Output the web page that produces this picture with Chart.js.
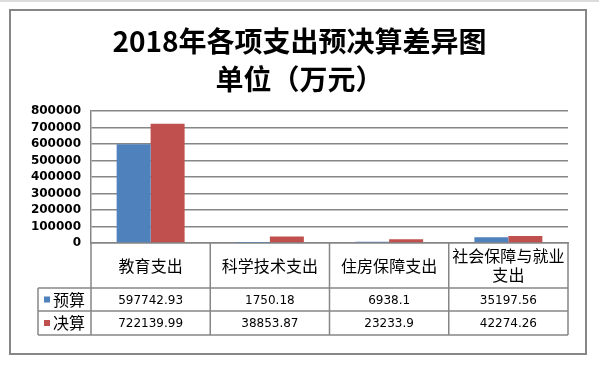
<!DOCTYPE html>
<html>
<head>
<meta charset="utf-8">
<script src="https://cdn.jsdelivr.net/npm/chart.js@4/dist/chart.umd.min.js"></script>
<style>
  html, body { margin: 0; padding: 0; background: #fff; }
  #wrap { width: 599px; height: 367px; }
</style>
</head>
<body>
<div id="wrap"><canvas id="chart" width="599" height="367"></canvas></div>
<script>
// Chart data
const categories = ['教育支出', '科学技术支出', '住房保障支出', '社会保障与就业支出'];
const budgetValues = [597742.93, 1750.18, 6938.1, 35197.56];
const finalValues = [722139.99, 38853.87, 23233.9, 42274.26];
const seriesNames = ['预算', '决算'];
const titleLines = ['2018年各项支出预决算差异图', '单位（万元）'];
const yMax = 800000;
const yStep = 100000;

const lineColor = '#868686';
const colors = ['#4F81BD', '#C0504D'];

// Wrap a label into lines that fit a column
function wrapText(ctx, text, maxWidth) {
  const lines = [];
  let line = '';
  for (const ch of text) {
    if (line && ctx.measureText(line + ch).width > maxWidth) {
      lines.push(line);
      line = ch;
    } else {
      line += ch;
    }
  }
  if (line) lines.push(line);
  return lines;
}

// Outer frame plus the data table under the plot
const dataTablePlugin = {
  id: 'dataTable',
  beforeDraw(chart) {
    const ctx = chart.ctx;
    ctx.save();
    ctx.fillStyle = '#dcdcdc';
    ctx.fillRect(0, 0, chart.width, 2);
    ctx.strokeStyle = '#878787';
    ctx.lineWidth = 2;
    ctx.strokeRect(10, 10, 576, 344);
    ctx.restore();
  },
  afterDraw(chart) {
    const ctx = chart.ctx;
    const area = chart.chartArea;
    const colW = (area.right - area.left) / categories.length;
    const top = area.bottom;
    const headerBottom = top + 45;
    const row1Bottom = headerBottom + 23;
    const row2Bottom = row1Bottom + 24;
    const legendLeft = 38;

    ctx.save();
    ctx.strokeStyle = lineColor;
    ctx.lineWidth = 1.5;
    ctx.beginPath();
    // horizontal lines
    [headerBottom, row1Bottom, row2Bottom].forEach(y => {
      ctx.moveTo(legendLeft, y);
      ctx.lineTo(area.right, y);
    });
    // vertical lines
    ctx.moveTo(legendLeft, headerBottom);
    ctx.lineTo(legendLeft, row2Bottom);
    for (let i = 0; i <= categories.length; i++) {
      const x = area.left + i * colW;
      ctx.moveTo(x, top);
      ctx.lineTo(x, row2Bottom);
    }
    ctx.stroke();

    ctx.fillStyle = '#000';
    ctx.textAlign = 'center';
    ctx.textBaseline = 'middle';

    // header row: category names
    ctx.font = '16px "Noto Sans CJK SC"';
    categories.forEach((name, i) => {
      const cx = area.left + (i + 0.5) * colW;
      const lines = wrapText(ctx, name, colW - 4);
      const lh = 19;
      const startY = (top + headerBottom) / 2 - (lines.length - 1) * lh / 2;
      lines.forEach((l, j) => ctx.fillText(l, cx, startY + j * lh));
    });

    // value rows
    const rows = [
      { values: budgetValues, y: (headerBottom + row1Bottom) / 2 },
      { values: finalValues, y: (row1Bottom + row2Bottom) / 2 }
    ];
    rows.forEach((row, r) => {
      // legend cell
      ctx.fillStyle = colors[r];
      ctx.fillRect(legendLeft + 6, row.y - 3, 6, 6);
      ctx.fillStyle = '#000';
      ctx.textAlign = 'left';
      ctx.font = '16px "Noto Sans CJK SC"';
      ctx.fillText(seriesNames[r], legendLeft + 15, row.y);
      // values
      ctx.textAlign = 'center';
      ctx.font = '12px "DejaVu Sans"';
      row.values.forEach((v, i) => {
        ctx.fillText(String(v), area.left + (i + 0.5) * colW, row.y + 1);
      });
    });
    ctx.restore();
  }
};

const ctx = document.getElementById('chart').getContext('2d');
const chart = new Chart(ctx, {
  type: 'bar',
  data: {
    labels: categories,
    datasets: [
      {
        label: seriesNames[0],
        data: budgetValues,
        backgroundColor: colors[0],
        categoryPercentage: 0.57,
        barPercentage: 1
      },
      {
        label: seriesNames[1],
        data: finalValues,
        backgroundColor: colors[1],
        categoryPercentage: 0.57,
        barPercentage: 1
      }
    ]
  },
  options: {
    responsive: false,
    animation: false,
    layout: { padding: { left: 31, right: 31, top: 0, bottom: 0 } },
    plugins: {
      legend: { display: false },
      tooltip: { enabled: false },
      title: {
        display: true,
        text: titleLines,
        color: '#000',
        font: { family: '"Noto Sans CJK SC"', size: 28, weight: 'bold', lineHeight: 1.357 },
        padding: { top: 22, bottom: 13 }
      }
    },
    scales: {
      x: {
        ticks: { display: false },
        grid: { display: false },
        border: { display: true, color: lineColor, width: 1.5 },
        afterFit(scale) { scale.height = 124; }
      },
      y: {
        min: 0,
        max: yMax,
        ticks: {
          stepSize: yStep,
          autoSkip: false,
          color: '#000',
          padding: 10,
          font: { family: '"DejaVu Sans"', size: 12, weight: 'bold' },
          callback: value => String(value)
        },
        grid: { color: lineColor, lineWidth: 1.5, drawTicks: false },
        border: { display: true, color: lineColor, width: 1.5 },
        afterFit(scale) { scale.width = 60; }
      }
    }
  },
  plugins: [dataTablePlugin]
});
</script>
</body>
</html>
